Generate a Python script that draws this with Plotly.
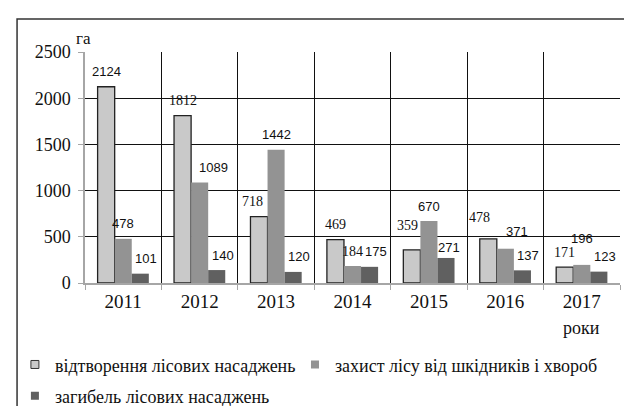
import plotly.graph_objects as go

years = ["2011", "2012", "2013", "2014", "2015", "2016", "2017"]
reforestation = [2124, 1812, 718, 469, 359, 478, 171]
protection = [478, 1089, 1442, 184, 670, 371, 196]
loss = [101, 140, 120, 175, 271, 137, 123]

series_names = ["відтворення лісових насаджень",
                "захист лісу від шкідників і хвороб",
                "загибель лісових насаджень"]

SERIF = "Liberation Serif, Times New Roman, serif"
SANS = "Liberation Sans, Arial, sans-serif"

series = [reforestation, protection, loss]
colors = ["#c9c9c9", "#939393", "#606060"]
# label font style per series / year ("s" = sans, "r" = serif), as in the source
label_styles = [
    ["s", "r", "r", "r", "r", "r", "r"],
    ["s", "s", "s", "r", "s", "s", "s"],
    ["s", "s", "s", "s", "s", "s", "s"],
]
# manual nudges of individual data labels (px), as placed in the source
label_nudge = {(1, 1): (14, 0), (1, 5): (12, 2), (0, 2): (-7, 0), (0, 5): (-9, 6),
               (0, 4): (-4, 9), (1, 6): (0, 11), (2, 4): (-3, -5)}

BARGAP = 0.33
n_series = len(series)
bar_w = (1 - BARGAP) / n_series
legend_ids = ["legend", "legend2", "legend3"]

fig = go.Figure()
for k, vals in enumerate(series):
    fig.add_trace(go.Bar(
        x=years, y=vals, name=series_names[k], showlegend=False,
        marker=dict(color=colors[k],
                    line=dict(color="#222222", width=1.3 if k == 0 else 0)),
    ))
# legend-only entries with small square keys
for k in range(n_series):
    fig.add_trace(go.Scatter(
        x=[None], y=[None], mode="markers", name=series_names[k],
        legend=legend_ids[k],
        marker=dict(symbol="square", size=8, color=colors[k],
                    line=dict(color="#333333", width=1 if k == 0 else 0)),
    ))

annotations = []
for k, vals in enumerate(series):
    for i, v in enumerate(vals):
        dx, dy = label_nudge.get((k, i), (0, 0))
        if k == 2:
            dx += 6
        serif = label_styles[k][i] == "r"
        annotations.append(dict(
            text=str(v), xref="x", yref="y",
            x=i + (k - (n_series - 1) / 2) * bar_w, y=v,
            xanchor="center", yanchor="middle", xshift=dx, yshift=15 + dy,
            showarrow=False,
            font=dict(family=SERIF if serif else SANS, size=14 if serif else 13,
                      color="#111111")))

annotations.append(dict(text="га", xref="paper", yref="paper", x=0, y=1,
                        xanchor="center", yanchor="bottom", yshift=2, xshift=-2,
                        showarrow=False,
                        font=dict(family=SERIF, size=17, color="#111111")))
annotations.append(dict(text="роки", xref="x", yref="paper", x=len(years) - 1, y=0,
                        xanchor="center", yanchor="middle", yshift=-45, showarrow=False,
                        font=dict(family=SERIF, size=18, color="#111111")))

legend_common = dict(orientation="h", xanchor="left", yanchor="middle",
                     font=dict(family=SERIF, size=18, color="#111111"),
                     itemwidth=30, bgcolor="rgba(0,0,0,0)")

fig.update_layout(
    width=632, height=406,
    margin=dict(l=77, r=20, t=44, b=131, autoexpand=False),
    paper_bgcolor="white", plot_bgcolor="white",
    barmode="group", bargap=BARGAP, bargroupgap=0,
    font=dict(family=SERIF, color="#111111"),
    showlegend=True,
    legend=dict(x=-0.131, y=-0.354, **legend_common),
    legend2=dict(x=0.3925, y=-0.354, **legend_common),
    legend3=dict(x=-0.131, y=-0.489, **legend_common),
    xaxis=dict(type="category", tickson="boundaries", showgrid=True,
               gridcolor="#111111", gridwidth=1, showline=True, linecolor="#a6a6a6",
               linewidth=1.5, ticks="outside", ticklen=5, tickcolor="#a6a6a6",
               tickfont=dict(family=SERIF, size=19, color="#111111"),
               tickangle=0, range=[-0.5, 6.5]),
    yaxis=dict(range=[0, 2500], dtick=500, showgrid=True, gridcolor="#111111",
               gridwidth=1, showline=True, linecolor="#a6a6a6", linewidth=1.5,
               ticks="outside", ticklen=5, tickcolor="#a6a6a6", zeroline=False,
               ticklabelstandoff=4,
               tickfont=dict(family=SERIF, size=18, color="#111111")),
    annotations=annotations,
    shapes=[
        dict(type="rect", xref="paper", yref="paper", x0=-0.127, x1=1.06,
             y0=-0.6, y1=1.143, line=dict(color="#333333", width=1.5),
             fillcolor="rgba(0,0,0,0)", layer="below"),
    ],
)

fig.write_html("out.html")
